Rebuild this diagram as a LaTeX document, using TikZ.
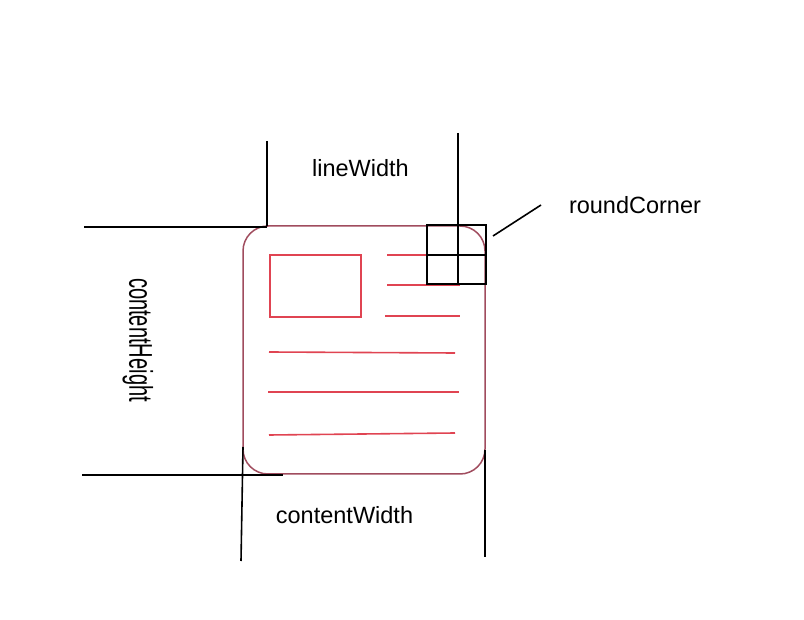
\documentclass[tikz,border=0pt]{standalone}
\usepackage{fontspec}
\usepackage{graphicx}
\setmainfont{Liberation Sans}
\definecolor{frame}{HTML}{A04C5E}
\definecolor{redline}{HTML}{E04452}
\begin{document}
\begin{tikzpicture}[x=1pt,y=-1pt,
  guide/.style={draw=black, line width=1.6pt},
  content/.style={draw=redline, line width=1.6pt},
  lbl/.style={inner sep=0pt, font=\fontsize{23.5}{28}\selectfont}]
\useasboundingbox (0,0) rectangle (804,620);
% outer rounded frame
\draw[draw=frame, line width=1.5pt, rounded corners=25pt] (243,226) rectangle (485,474);
% content
\draw[content] (270,255) rectangle (361,317);
\draw[content] (387,255) -- (427,255);
\draw[content] (387,285) -- (460,285);
\draw[content] (385,316) -- (460,316);
\draw[content] (269,352) -- (455,353);
\draw[content] (268,392) -- (459,392);
\draw[content] (269,435) -- (455,433);
% corner grid
\draw[guide] (427,225) rectangle (486,284);
\draw[guide] (427,255) -- (486,255);
% guide coordinates
\coordinate (tlv1) at (267,141);
\coordinate (tlv2) at (267,226);
\coordinate (trv1) at (458,133);
\coordinate (trv2) at (458,284);
\coordinate (th1) at (84,227);
\coordinate (th2) at (267,227);
\coordinate (bh1) at (82,475);
\coordinate (bh2) at (283,475);
\coordinate (blv1) at (243,447);
\coordinate (blv2) at (241,561);
\coordinate (brv1) at (485,450);
\coordinate (brv2) at (485,557);
\coordinate (rc1) at (493,236);
\coordinate (rc2) at (541,205);
\draw[guide] (tlv1) -- (tlv2);
\draw[guide] (trv1) -- (trv2);
\draw[guide] (th1) -- (th2);
\draw[guide] (bh1) -- (bh2);
\draw[guide] (blv1) -- (blv2);
\draw[guide] (brv1) -- (brv2);
\draw[guide] (rc1) -- (rc2);
% labels
\node[lbl] (lw) at (360.5,168) {lineWidth};
\node[lbl] (rc) at (635,205.5) {roundCorner};
\node[lbl] (cw) at (344.5,515) {contentWidth};
\node[lbl, rotate=-90] (ch) at (138,340) {\scalebox{0.855}[1.4]{contentHeight}};
\end{tikzpicture}
\end{document}
